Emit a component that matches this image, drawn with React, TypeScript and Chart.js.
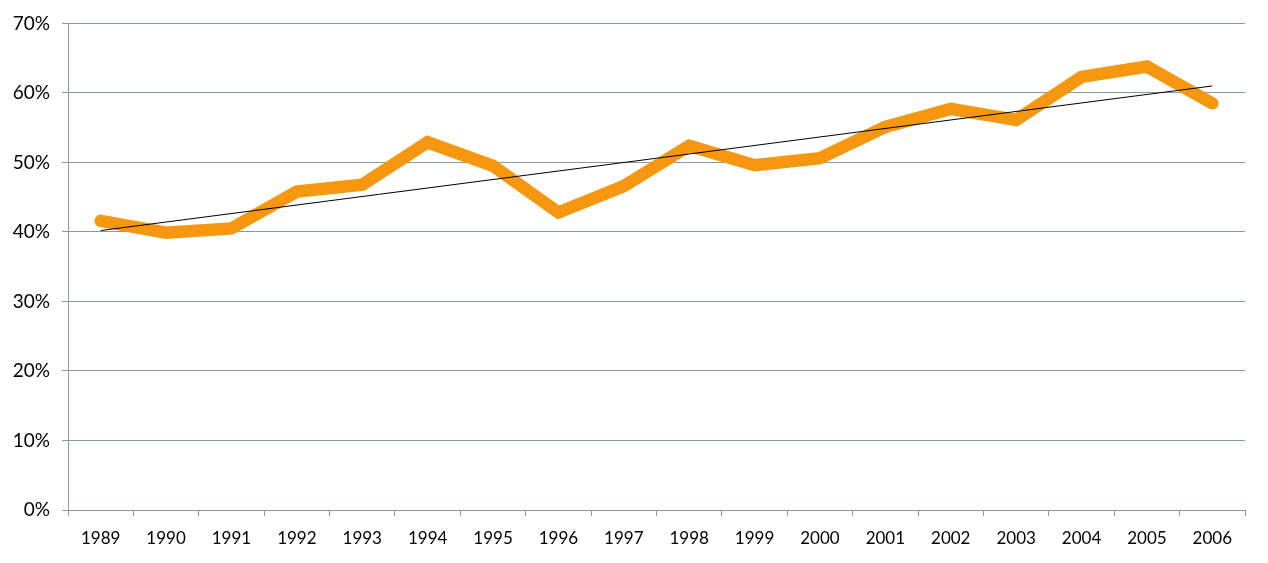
import React, { useEffect, useRef } from "react";
import { Chart, registerables } from "chart.js";

Chart.register(...registerables);

const years = ["1989","1990","1991","1992","1993","1994","1995","1996","1997","1998","1999","2000","2001","2002","2003","2004","2005","2006"];
const shareValues = [41.6, 39.9, 40.5, 45.8, 46.8, 52.9, 49.5, 42.8, 46.6, 52.4, 49.6, 50.6, 55.1, 57.7, 56.1, 62.3, 63.8, 58.5];
const trendValues = [40.2, null, null, null, null, null, null, null, null, null, null, null, null, null, null, null, null, 61.0];
const yTicks = [0, 10, 20, 30, 40, 50, 60, 70];

export default function App() {
  const ref = useRef<HTMLCanvasElement | null>(null);
  useEffect(() => {
    if (!ref.current) return;
    const grid = "#8a9a9c";
    const chart = new Chart(ref.current, {
      type: "line",
      data: {
        labels: years,
        datasets: [
          {
            data: shareValues,
            borderColor: "#F7970F",
            borderWidth: 12.5,
            borderCapStyle: "round",
            borderJoinStyle: "miter",
            pointRadius: 0,
            tension: 0,
            order: 2,
          },
          {
            data: trendValues as any,
            borderColor: "#000000",
            borderWidth: 1,
            pointRadius: 0,
            spanGaps: true,
            order: 1,
          },
        ],
      },
      options: {
        animation: false,
        responsive: true,
        maintainAspectRatio: false,
        layout: { padding: { left: 0, right: 23, top: 22, bottom: 0 } },
        plugins: { legend: { display: false }, tooltip: { enabled: false } },
        scales: {
          x: {
            type: "category",
            offset: true,
            grid: {
              offset: true,
              drawOnChartArea: false,
              drawTicks: true,
              tickLength: 6,
              color: grid,
            },
            border: { display: true, color: grid },
            ticks: {
              color: "#000",
              font: { family: "Lato", size: 17 },
              padding: 12,
              maxRotation: 0,
              autoSkip: false,
            },
            afterFit: (s: any) => { s.height = 53; },
          },
          y: {
            min: 0,
            max: 70,
            afterBuildTicks: (s: any) => { s.ticks = yTicks.map((v) => ({ value: v })); },
            grid: { color: grid, tickLength: 6, lineWidth: 1 },
            border: { display: true, color: grid },
            ticks: {
              color: "#000",
              font: { family: "Lato", size: 19 },
              padding: 12,
              callback: (v: any) => v + "%",
            },
            afterFit: (s: any) => { s.width = 68; },
          },
        },
      },
    });
    return () => chart.destroy();
  }, []);
  return (
    <div style={{ position: "fixed", left: 0, top: 0, width: 1268, height: 563, background: "#fff" }}>
      <canvas ref={ref} />
    </div>
  );
}
